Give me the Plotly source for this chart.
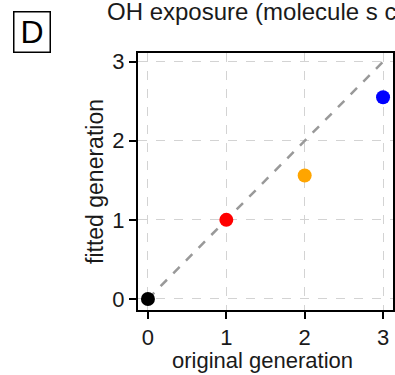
import plotly.graph_objects as go

original_gen = [0, 1, 2, 3]
fitted_gen = [0, 1, 1.56, 2.55]
point_colors = ["black", "red", "orange", "blue"]
diag = [0, 3]
ticks = [0, 1, 2, 3]

FONT = "Liberation Sans, Arial, sans-serif"
TXT = "#1a1a1a"

fig = go.Figure()
fig.add_trace(go.Scatter(x=diag, y=diag, mode="lines",
                         line=dict(color="#999999", width=2.5, dash="dash"),
                         hoverinfo="skip", showlegend=False))
fig.add_trace(go.Scatter(x=original_gen, y=fitted_gen, mode="markers",
                         marker=dict(color=point_colors, size=14, line=dict(width=0)),
                         showlegend=False, cliponaxis=False))

axis_common = dict(
    showline=True, linecolor="black", linewidth=2, mirror=True,
    ticks="outside", ticklen=7, tickwidth=1.5, tickcolor="black",
    tickvals=ticks, ticktext=[str(t) for t in ticks],
    showgrid=True, gridcolor="#d3d3d3", gridwidth=1, griddash="dash",
    zeroline=False, tickfont=dict(family=FONT, size=22, color=TXT),
)
fig.update_xaxes(range=[-0.127, 3.127], ticklabelstandoff=0, **axis_common)
fig.update_yaxes(range=[-0.14, 3.11], title=dict(text="fitted generation",
                 font=dict(family=FONT, size=23, color=TXT), standoff=2), **axis_common)

fig.add_annotation(text="original generation", xref="paper", yref="paper",
                   x=0.49, y=0.0, yshift=-50, xanchor="center", yanchor="middle",
                   showarrow=False, font=dict(family=FONT, size=22, color=TXT))
fig.add_annotation(text="OH exposure (molecule s cm⁻³)", xref="paper", yref="paper",
                   x=-0.13, y=1.0, yshift=42, xanchor="left", yanchor="middle",
                   showarrow=False, font=dict(family=FONT, size=24, color=TXT))
fig.add_annotation(text="D", xref="paper", yref="paper", x=-0.414, y=1.0, yshift=21,
                   xanchor="center", yanchor="middle", showarrow=False,
                   font=dict(family=FONT, size=32, color="black"),
                   bordercolor="black", borderwidth=1.5, borderpad=0, width=35, height=39)

fig.update_layout(width=395, height=375, margin=dict(l=138, r=0, t=53, b=65),
                  plot_bgcolor="white", paper_bgcolor="white")
fig.write_html("out.html")
